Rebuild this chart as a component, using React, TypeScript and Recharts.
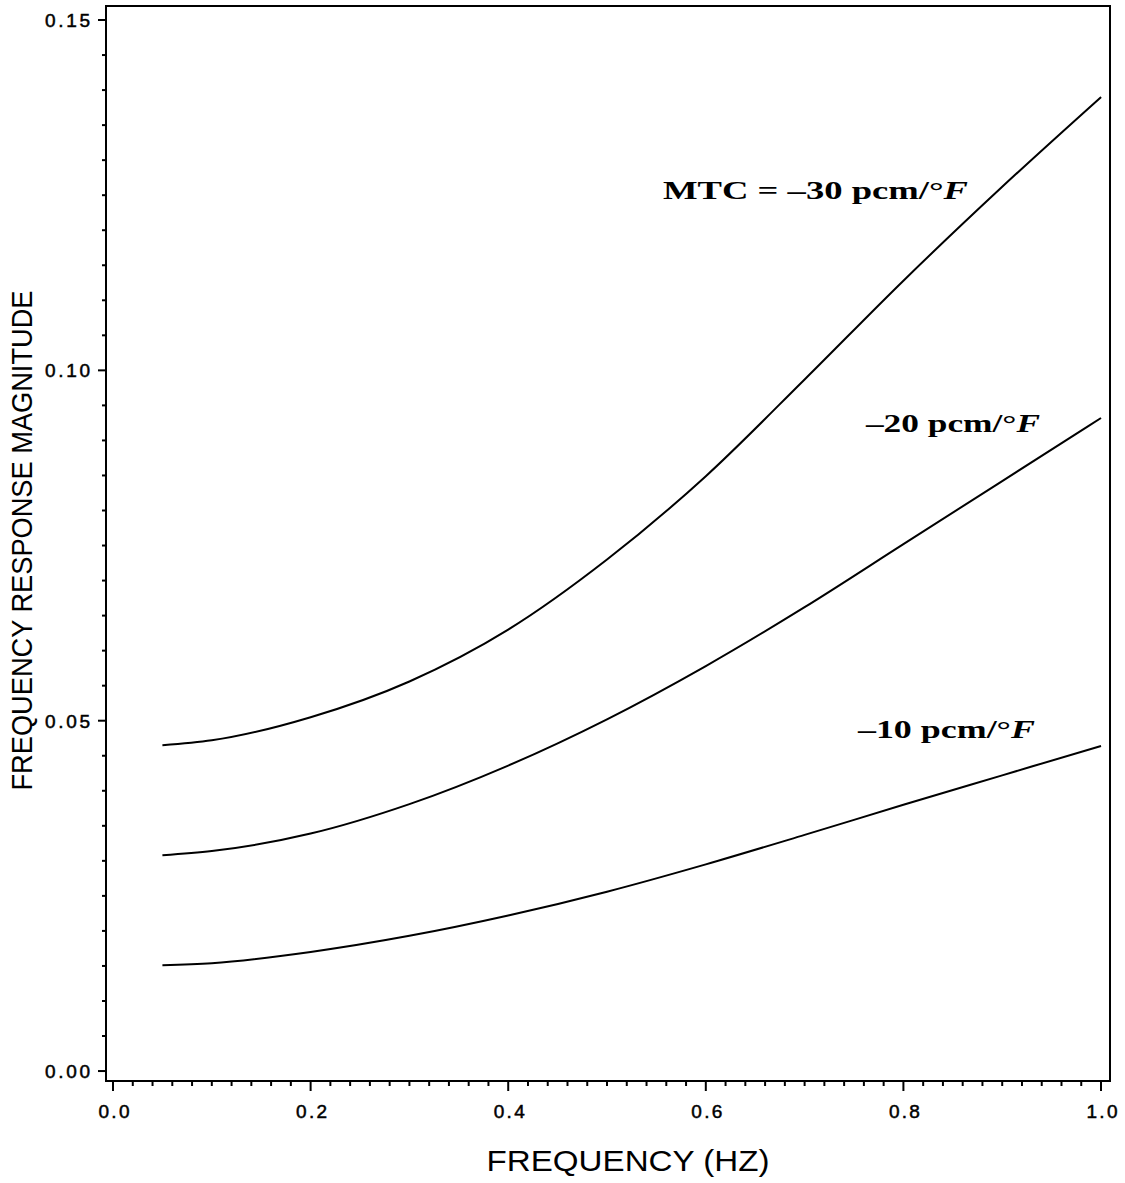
import { LineChart, Line, XAxis, YAxis, ReferenceArea, ReferenceDot, Label } from "recharts";

// frequency (Hz) and response magnitude for three MTC values
const freq = [0.05, 0.1, 0.2, 0.3, 0.4, 0.5, 0.6, 0.7, 0.8, 0.9, 1.0];
const mtc30 = [0.0465, 0.0472, 0.0505, 0.0556, 0.063, 0.073, 0.0849, 0.0987, 0.1128, 0.1262, 0.139];
const mtc20 = [0.0308, 0.0314, 0.0339, 0.0381, 0.0436, 0.0502, 0.0578, 0.0662, 0.0752, 0.0842, 0.0932];
const mtc10 = [0.0151, 0.0154, 0.017, 0.0193, 0.0222, 0.0256, 0.0295, 0.0337, 0.038, 0.0422, 0.0464];

const xTicks = Array.from({ length: 51 }, (_, i) => i / 50);
const yTicks = Array.from({ length: 31 }, (_, i) => i / 200);

const X_DOMAIN: [number, number] = [-0.0071, 1.0091];
const Y_DOMAIN: [number, number] = [-0.00142, 0.152];

const data = freq.map((f, i) => ({ f, m30: mtc30[i], m20: mtc20[i], m10: mtc10[i] }));

const SANS = "'Liberation Sans', Arial, sans-serif";
const SERIF = "'Liberation Serif', 'DejaVu Serif', serif";

const isMajor = (v: number, step: number) => Math.abs(v / step - Math.round(v / step)) < 1e-6;

function XTick({ x, y, payload }: any) {
  const major = isMajor(payload.value, 0.2);
  return (
    <g>
      <line x1={x} x2={x} y1={y} y2={y + (major ? 10 : 5)} stroke="#000" strokeWidth={2} />
      {major && (
        <text
          x={x + 1}
          y={y + 37}
          textAnchor="middle"
          fontSize={19}
          fontFamily={SANS}
          fill="#000"
          stroke="#000"
          strokeWidth={0.5}
          textLength={31}
        >
          {payload.value.toFixed(1)}
        </text>
      )}
    </g>
  );
}

function YTick({ x, y, payload }: any) {
  const major = isMajor(payload.value, 0.05);
  return (
    <g>
      <line x1={x} x2={x - (major ? 8 : 4)} y1={y} y2={y} stroke="#000" strokeWidth={2} />
      {major && (
        <text
          x={90}
          y={y + 7}
          textAnchor="end"
          fontSize={19}
          fontFamily={SANS}
          fill="#000"
          stroke="#000"
          strokeWidth={0.5}
          textLength={45}
        >
          {payload.value.toFixed(2)}
        </text>
      )}
    </g>
  );
}

function note(text: string, width: number) {
  return ({ viewBox }: any) => (
    <text
      x={viewBox.x}
      y={viewBox.y}
      fontFamily={SERIF}
      fontWeight="bold"
      fontSize={26}
      fill="#000"
      textLength={width}
      lengthAdjust="spacingAndGlyphs"
    >
      {text}
      <tspan fontStyle="italic">F</tspan>
    </text>
  );
}

export default function App() {
  return (
    <div style={{ position: "absolute", left: 0, top: 0, width: 1125, height: 1183, background: "#fff" }}>
      <LineChart width={1125} height={1183} data={data} margin={{ top: 6, right: 15, bottom: 42, left: 0 }}>
        <XAxis
          dataKey="f"
          type="number"
          domain={X_DOMAIN}
          allowDataOverflow
          ticks={xTicks}
          interval={0}
          tickSize={0}
          tickMargin={0}
          tick={XTick}
          height={60}
          axisLine={{ stroke: "#000", strokeWidth: 2 }}
        >
          <Label
            content={({ viewBox }: any) => (
              <text
                x={viewBox.x + viewBox.width / 2 + 20}
                y={viewBox.y + 90}
                textAnchor="middle"
                fontFamily={SANS}
                fontSize={30}
                fill="#000"
                textLength={283}
                lengthAdjust="spacingAndGlyphs"
              >
                FREQUENCY (HZ)
              </text>
            )}
          />
        </XAxis>
        <YAxis
          type="number"
          domain={Y_DOMAIN}
          allowDataOverflow
          ticks={yTicks}
          interval={0}
          tickSize={0}
          tickMargin={0}
          tick={YTick}
          width={106}
          axisLine={{ stroke: "#000", strokeWidth: 2 }}
        >
          <Label
            content={({ viewBox }: any) => {
              const cx = 32;
              const cy = viewBox.y + viewBox.height / 2 - 3;
              return (
                <text
                  x={cx}
                  y={cy}
                  transform={`rotate(-90, ${cx}, ${cy})`}
                  textAnchor="middle"
                  fontFamily={SANS}
                  fontSize={29}
                  fill="#000"
                  textLength={500}
                  lengthAdjust="spacingAndGlyphs"
                >
                  FREQUENCY RESPONSE MAGNITUDE
                </text>
              );
            }}
          />
        </YAxis>
        <ReferenceArea
          x1={X_DOMAIN[0]}
          x2={X_DOMAIN[1]}
          y1={Y_DOMAIN[0]}
          y2={Y_DOMAIN[1]}
          fill="none"
          stroke="#000"
          strokeWidth={2}
          fillOpacity={0}
        />
        <Line type="monotone" dataKey="m30" stroke="#000" strokeWidth={2} dot={false} isAnimationActive={false} />
        <Line type="monotone" dataKey="m20" stroke="#000" strokeWidth={2} dot={false} isAnimationActive={false} />
        <Line type="monotone" dataKey="m10" stroke="#000" strokeWidth={2} dot={false} isAnimationActive={false} />
        <ReferenceDot x={0.5567} y={0.1245} r={0} fill="none" stroke="none">
          <Label content={note("MTC = \u201330 pcm/\u00b0", 305)} />
        </ReferenceDot>
        <ReferenceDot x={0.7621} y={0.0912} r={0} fill="none" stroke="none">
          <Label content={note("\u201320 pcm/\u00b0", 174)} />
        </ReferenceDot>
        <ReferenceDot x={0.754} y={0.0475} r={0} fill="none" stroke="none">
          <Label content={note("\u201310 pcm/\u00b0", 177)} />
        </ReferenceDot>
      </LineChart>
    </div>
  );
}
